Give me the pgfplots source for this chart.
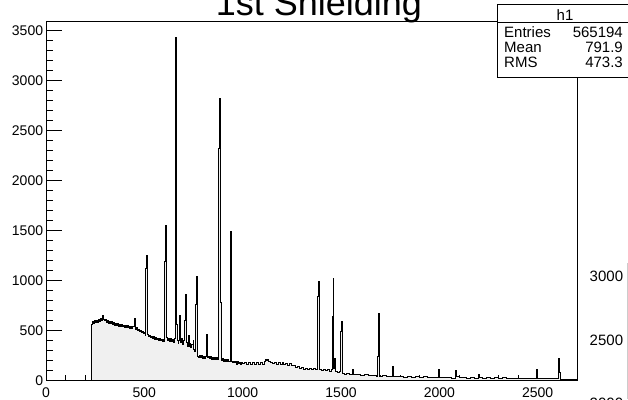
\documentclass[border=0pt]{standalone}
\usepackage{pgfplots}
\pgfplotsset{compat=1.18}
\usepackage{fontspec}
\setmainfont{Liberation Sans}
\definecolor{histfill}{RGB}{240,240,240}
\begin{document}
\begin{tikzpicture}[x=1bp,y=1bp]
\path[use as bounding box, clip] (0,0) rectangle (628,399);
\fill[white] (0,0) rectangle (628,399);
\begin{axis}[
  at={(46bp,18.5bp)}, anchor=south west, scale only axis,
  width=531bp, height=359.5bp,
  xmin=0, xmax=2700, ymin=0, ymax=3595,
  axis line style={line width=0.8bp},
  tick align=inside, tick pos=left,
  xtick={0,500,...,2500}, minor x tick num=4,
  ytick=\empty,
  major tick length=9bp, minor tick length=5.3bp,
  every tick/.style={black, line width=0.8bp},
  xticklabel style={font=\fontsize{14bp}{16bp}\selectfont, inner sep=0pt, yshift=-6.8bp},
  /pgf/number format/assume math mode=true,
  /pgf/number format/1000 sep={},
  scaled ticks=false,
]
\addplot[const plot, draw=black, line width=1bp, fill=histfill] coordinates {
(0,0) (232,565) (237,590) (242,575) (247,600) (252,585) (257,605) (262,580) (267,612)
(272,595) (277,625) (282,605) (287,652) (292,610) (297,598) (302,615) (307,585)
(312,602) (317,575) (322,594) (327,568) (332,588) (337,560) (342,580) (347,553)
(352,575) (357,550) (362,568) (367,543) (372,562) (377,538) (382,558) (387,536)
(392,554) (397,530) (402,550) (407,528) (412,547) (417,526) (422,542) (427,522)
(432,544) (437,518) (442,537) (446,540) (450,625) (454,515) (459,527) (464,503)
(469,514) (474,490) (479,502) (484,478) (489,490) (494,466) (499,477) (504,450)
(508,1125) (512,1255) (516,465) (521,438) (526,454) (531,428) (536,444) (541,418)
(546,438) (551,413) (556,430) (561,406) (566,424) (571,400) (576,420) (581,396)
(586,414) (591,393) (596,412) (600,388) (604,1195) (608,1550) (612,427) (617,398)
(622,417) (627,393) (632,420) (637,390) (642,412) (647,378) (652,417) (656,1440)
(660,3425) (664,560) (668,400) (672,368) (676,397) (680,655) (684,383) (689,422)
(694,363) (699,397) (702,420) (706,600) (710,862) (714,378) (719,343) (724,455)
(728,338) (732,367) (737,328) (742,357) (748,405) (752,313) (756,288) (760,760)
(764,1045) (768,288) (772,243) (777,230) (782,252) (787,226) (792,247) (797,223)
(802,242) (807,220) (812,240) (818,465) (822,226) (827,240) (832,218) (837,236)
(842,214) (847,235) (852,212) (857,230) (862,208) (867,226) (872,206)
(878,2320) (882,2815) (886,780) (890,205) (895,218) (900,192) (905,210) (910,190)
(915,214) (920,188) (925,206) (930,190)
(936,855) (940,1488) (944,190) (950,176) (955,195) (960,178) (965,190) (970,165)
(975,188) (980,170) (985,184) (990,160) (995,180) (1000,166) (1010,182) (1020,162)
(1030,178) (1040,160) (1050,180) (1060,163) (1070,176) (1080,158) (1090,178)
(1100,165) (1110,192) (1115,215) (1120,200) (1125,214) (1130,186) (1140,180)
(1150,168) (1160,184) (1170,165) (1180,180) (1190,158) (1200,176) (1210,160)
(1220,172) (1230,152) (1240,170) (1250,150) (1260,155) (1270,135) (1280,140)
(1290,120) (1300,135) (1310,115) (1320,125) (1330,110) (1340,122) (1350,108)
(1360,124) (1370,112) (1378,505) (1382,838) (1386,995) (1390,112)
(1400,100) (1410,115) (1420,96) (1430,110) (1440,94) (1450,106) (1456,638)
(1460,1022) (1464,120) (1468,222) (1472,90) (1480,80) (1490,86) (1498,490)
(1502,595) (1506,75) (1516,65) (1530,74) (1545,60) (1560,115) (1564,58) (1580,62)
(1600,52) (1620,56) (1640,48) (1660,52) (1680,44) (1686,238) (1690,672) (1694,42)
(1710,48) (1730,40) (1750,44) (1760,138) (1766,42) (1780,36) (1800,42) (1820,34)
(1840,40) (1860,32) (1880,37) (1900,30) (1920,36) (1940,29) (1960,34) (1980,28)
(1996,112) (2000,30) (2020,26) (2040,32) (2060,25) (2080,60) (2084,98) (2088,42)
(2100,26) (2120,30) (2140,24) (2160,29) (2180,24) (2198,62) (2202,35) (2220,23)
(2240,28) (2260,22) (2280,27) (2300,21) (2320,26) (2340,20) (2360,25) (2380,20)
(2400,24) (2420,19) (2440,23) (2460,18) (2480,22) (2495,112) (2499,18) (2520,22)
(2540,17) (2560,21) (2580,16) (2600,25) (2604,140) (2608,222) (2612,80) (2616,12)
(2640,11) (2660,13) (2680,10) (2700,10)
} \closedcycle;
\end{axis}
\begin{axis}[
  at={(46bp,18.5bp)}, anchor=south west, scale only axis,
  width=531bp, height=359.5bp,
  xmin=0, xmax=2700, ymin=0, ymax=3595,
  axis line style={line width=0.8bp},
  tick align=inside, tick pos=left,
  xtick=\empty,
  ytick={0,500,...,3500}, minor y tick num=4,
  major tick length=15.7bp, minor tick length=7.3bp,
  every tick/.style={black, line width=0.8bp},
  yticklabel style={font=\fontsize{14bp}{16bp}\selectfont, inner sep=0pt, xshift=-2.7bp},
  /pgf/number format/assume math mode=true,
  /pgf/number format/1000 sep={},
  scaled ticks=false,
]
\addplot[draw=none] coordinates {(0,0)};
\end{axis}
% title
\node[anchor=base, font=\fontsize{36bp}{40bp}\selectfont, inner sep=0pt] at (319,384) {1st Shielding};
% stats box
\draw[fill=white, line width=0.8bp] (497.7,321.7) rectangle (632,394.3);
\draw[line width=0.8bp] (497.7,376.3) -- (632,376.3);
\node[anchor=base, font=\fontsize{15bp}{17bp}\selectfont, inner sep=0pt] at (565,378.6) {h1};
\node[anchor=base west, font=\fontsize{15bp}{17bp}\selectfont, inner sep=0pt] at (504,361.3) {Entries};
\node[anchor=base west, font=\fontsize{15bp}{17bp}\selectfont, inner sep=0pt] at (504,346.5) {Mean};
\node[anchor=base west, font=\fontsize{15bp}{17bp}\selectfont, inner sep=0pt] at (504,331.8) {RMS};
\node[anchor=base east, font=\fontsize{15bp}{17bp}\selectfont, inner sep=0pt] at (623,361.3) {565194};
\node[anchor=base east, font=\fontsize{15bp}{17bp}\selectfont, inner sep=0pt] at (623,346.5) {791.9};
\node[anchor=base east, font=\fontsize{15bp}{17bp}\selectfont, inner sep=0pt] at (623,331.8) {473.3};
% stray labels at right edge
\node[anchor=base east, font=\fontsize{15bp}{17bp}\selectfont, inner sep=0pt] at (623.3,117.3) {3000};
\node[anchor=base east, font=\fontsize{15bp}{17bp}\selectfont, inner sep=0pt] at (623.3,54) {2500};
\node[anchor=base east, font=\fontsize{15bp}{17bp}\selectfont, inner sep=0pt] at (623.3,-9) {2000};
\draw[gray!40, line width=0.6bp] (627.6,0) -- (627.6,136);
\end{tikzpicture}
\end{document}
